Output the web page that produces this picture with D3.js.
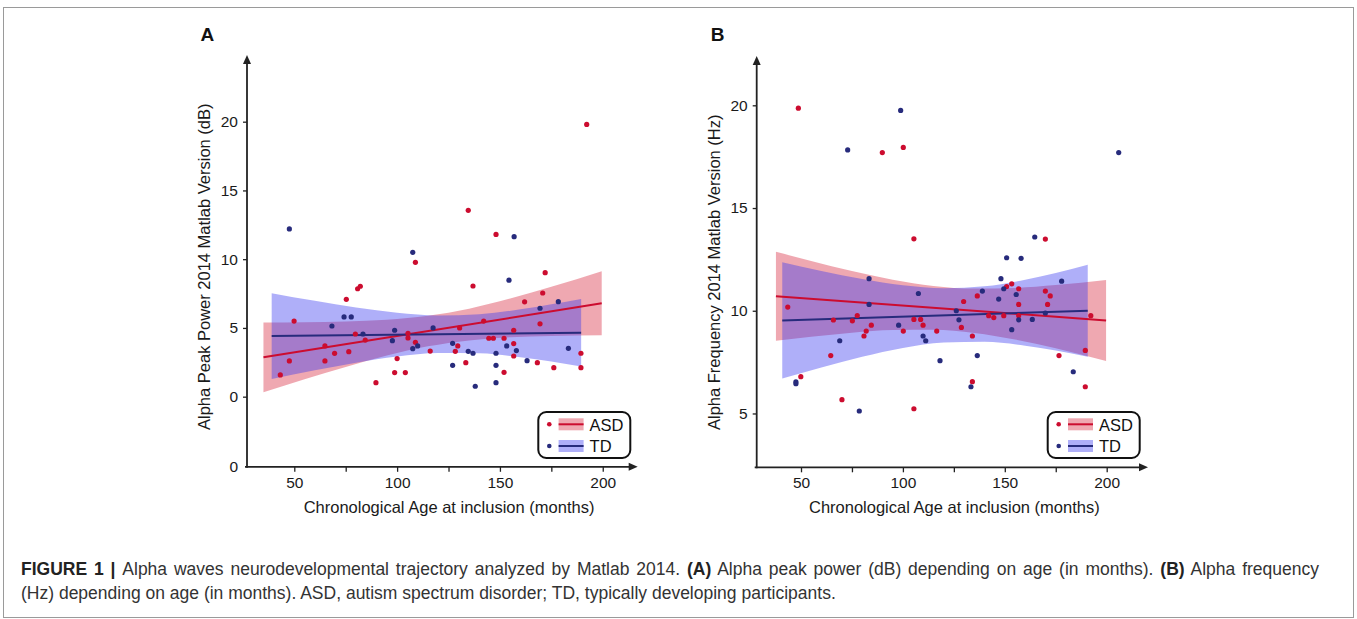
<!DOCTYPE html>
<html>
<head>
<meta charset="utf-8">
<script src="https://cdn.jsdelivr.net/npm/d3@7/dist/d3.min.js"></script>
<style>
  body { margin: 0; background: #fff; }
  svg { font-family: "Liberation Sans", Arial, Helvetica, sans-serif; display: block; }
</style>
</head>
<body>
<svg width="1357" height="619"></svg>
<script>
// ---- panel A : alpha peak power (dB) vs age (months) ----
var ageA_ASD = [43.2, 47.6, 49.9, 64.9, 64.9, 69.6, 75.3, 76.5, 79.7, 80.8, 82.1, 84.5, 89.7, 98.8, 100, 104,
  105.3, 105.3, 108.9, 108.9, 116.1, 128.3, 129.5, 130.4, 133.4, 134.6, 136.9, 142.1, 144.6, 146.8, 148.1,
  152, 152, 156.7, 156.7, 156.7, 162, 168.2, 169.5, 170.8, 172, 176.2, 189.4, 189.4, 192.2];
var powerA_ASD = [1.58, 2.6, 5.5, 3.69, 2.6, 3.15, 7.08, 3.27, 4.56, 7.85, 8.03, 4.12, 1.02, 1.75, 2.77, 1.75,
  4.61, 4.27, 3.95, 9.77, 3.32, 3.3, 3.69, 5.0, 2.47, 13.55, 8.05, 5.5, 4.25, 4.25, 11.8,
  4.25, 1.77, 4.83, 3.86, 2.96, 6.9, 2.47, 5.3, 7.54, 9.02, 2.11, 3.16, 2.11, 19.8];
var ageA_TD = [47.6, 68.3, 74.2, 77.7, 83.4, 97.7, 98.8, 107.6, 107.6, 110, 117.5, 127, 127, 134.6, 136.9,
  138, 148.1, 148.1, 148.1, 153.3, 154.4, 156.9, 158, 163.2, 169.5, 178.4, 183.3];
var powerA_TD = [12.2, 5.14, 5.8, 5.8, 4.56, 4.07, 4.83, 10.5, 3.49, 3.69, 5.0, 3.88, 2.28, 3.3, 3.16,
  0.76, 3.16, 2.28, 1.02, 3.69, 8.47, 11.64, 3.35, 2.62, 6.43, 6.91, 3.52];

// fitted lines and confidence bands
var fitAgeA_ASD = [35, 199.5], fitA_ASD = [2.86, 6.79];
var fitAgeA_TD = [39, 189.5], fitA_TD = [4.41, 4.65];
var bandAgeA_ASD = [35, 55, 75, 95, 115, 135, 155, 175, 199.5];
var bandLoA_ASD = [0.32, 1.26, 2.16, 2.99, 3.66, 4.09, 4.32, 4.42, 4.46];
var bandHiA_ASD = [5.40, 5.42, 5.47, 5.60, 5.89, 6.40, 7.14, 7.99, 9.13];
var bandAgeA_TD = [39, 60, 80, 100, 120, 140, 160, 175, 189.5];
var bandLoA_TD = [1.29, 1.92, 2.47, 2.92, 3.18, 3.15, 2.86, 2.55, 2.19];
var bandHiA_TD = [7.53, 6.97, 6.48, 6.10, 5.90, 6.00, 6.35, 6.72, 7.11];

// ---- panel B : alpha frequency (Hz) vs age (months) ----
var ageB_ASD = [43.5, 48.7, 49.9, 64.6, 65.9, 70.1, 75.2, 77.6, 80.9, 82, 84.5, 89.9, 100.2, 100.2, 105.4,
  105.4, 105.4, 108.7, 109.9, 116.6, 128.7, 129.8, 134.1, 134.1, 136.5, 142.1, 144.6, 149.5, 150.9, 153.4,
  156.8, 156.8, 156.8, 169.9, 169.9, 171, 172.3, 176.6, 189.5, 189.5, 192.2];
var freqB_ASD = [10.18, 19.86, 6.79, 7.82, 9.55, 5.67, 9.51, 9.77, 8.77, 9.01, 9.3, 17.7, 17.95, 9.01, 13.5,
  9.58, 5.23, 9.58, 9.3, 9.01, 9.19, 10.45, 8.77, 6.55, 10.72, 9.76, 9.67, 9.76, 11.18, 11.31,
  11.07, 10.31, 9.76, 13.49, 10.96, 10.31, 10.72, 7.82, 8.07, 6.3, 9.76];
var ageB_TD = [47.5, 47.5, 69, 72.9, 78.6, 83.4, 83.4, 97.9, 98.9, 107.6, 109.9, 111.2, 118.2, 126.2, 127.5,
  133.4, 136.5, 139, 147, 148.1, 149.5, 150.9, 153.4, 155.6, 156.8, 158, 163.5, 164.7, 169.9, 177.9, 183.6, 205.9];
var freqB_TD = [6.54, 6.45, 8.54, 17.83, 5.12, 11.56, 10.31, 9.3, 19.75, 10.84, 8.77, 8.54, 7.57, 10.0, 9.56,
  6.3, 7.82, 10.96, 10.57, 11.56, 11.07, 12.58, 9.08, 10.79, 9.56, 12.55, 9.58, 13.59, 9.89, 11.44, 7.03, 17.7];

var fitAgeB_ASD = [37.7, 199.7], fitB_ASD = [10.70, 9.53];
var fitAgeB_TD = [40.8, 190.7], fitB_TD = [9.53, 10.0];
var bandAgeB_ASD = [37.7, 55, 75, 95, 115, 135, 155, 175, 199.7];
var bandLoB_ASD = [8.54, 8.73, 8.93, 9.06, 9.07, 8.92, 8.60, 8.17, 7.55];
var bandHiB_ASD = [12.87, 12.42, 11.93, 11.51, 11.21, 11.08, 11.11, 11.25, 11.50];
var bandAgeB_TD = [40.8, 60, 80, 100, 120, 140, 160, 175, 190.7];
var bandLoB_TD = [6.70, 7.24, 7.76, 8.19, 8.46, 8.49, 8.30, 8.06, 7.76];
var bandHiB_TD = [12.36, 11.94, 11.55, 11.24, 11.10, 11.19, 11.51, 11.84, 12.24];

var xTicks = [50, 75, 100, 125, 150, 175, 200];
var yTicksA = [0, 5, 10, 15, 20];
var yTicksB = [5, 10, 15, 20];
var groups = ["ASD", "TD"];

var red = "#cc0c2f", blue = "#272b7c";
var redFill = "#d7263d", blueFill = "#3838f0";

var svg = d3.select("svg");

// grey frame round the figure
svg.append("rect")
  .attr("x", 3.5).attr("y", 7.5)
  .attr("width", 1350).attr("height", 610)
  .attr("fill", "none").attr("stroke", "#9a9a9a").attr("stroke-width", 1);

function drawPanel(p) {
  var g = svg.append("g");
  var x = d3.scaleLinear().domain(p.xDom).range(p.xRange);
  var y = d3.scaleLinear().domain(p.yDom).range(p.yRange);
  var x0 = p.xRange[0], x1 = p.xRange[1], y0 = p.yRange[0], y1 = p.yRange[1];

  // bands
  p.series.forEach(function(s) {
    var pts = s.bandAge.map(function(a, i) { return [a, s.bandLo[i], s.bandHi[i]]; });
    var area = d3.area()
      .x(function(d) { return x(d[0]); })
      .y0(function(d) { return y(d[1]); })
      .y1(function(d) { return y(d[2]); })
      .curve(d3.curveMonotoneX);
    g.append("path").datum(pts)
      .attr("d", area)
      .attr("fill", s.fill)
      .attr("fill-opacity", 0.4);
  });

  // fit lines
  p.series.forEach(function(s) {
    var line = d3.line().x(function(d) { return x(d[0]); }).y(function(d) { return y(d[1]); });
    g.append("path").datum(s.fitAge.map(function(a, i) { return [a, s.fit[i]]; }))
      .attr("d", line)
      .attr("fill", "none")
      .attr("stroke", s.color)
      .attr("stroke-width", 2);
  });

  // points
  p.series.forEach(function(s) {
    g.selectAll(null)
      .data(s.age.map(function(a, i) { return [a, s.val[i]]; }))
      .enter().append("circle")
        .attr("cx", function(d) { return x(d[0]); })
        .attr("cy", function(d) { return y(d[1]); })
        .attr("r", 2.6)
        .attr("fill", s.color);
  });

  // axes
  var xAxis = g.append("g")
    .attr("transform", "translate(0," + y0 + ")")
    .call(d3.axisBottom(x).tickValues(xTicks).tickSize(5).tickPadding(5)
      .tickFormat(function(d) { return d % 50 === 0 ? d : ""; }));
  var yAxis = g.append("g")
    .attr("transform", "translate(" + x0 + ",0)")
    .call(d3.axisLeft(y).tickValues(p.yTicks).tickSize(4).tickPadding(5));
  [xAxis, yAxis].forEach(function(a) {
    a.select(".domain").remove();
    a.selectAll("line").attr("stroke", "#222").attr("stroke-width", 1.3);
    a.selectAll("text").attr("font-size", 15.5).attr("fill", "#1a1a1a").attr("font-family", null);
  });
  if (p.bottomLabel) {
    g.append("text").attr("x", x0 - 9).attr("y", y0).attr("dy", "0.36em")
      .attr("text-anchor", "end").attr("font-size", 15.5).attr("fill", "#1a1a1a")
      .text(p.bottomLabel);
  }

  g.append("line").attr("x1", x0 - 2).attr("x2", x1 - 6).attr("y1", y0).attr("y2", y0)
    .attr("stroke", "#222").attr("stroke-width", 1.8);
  g.append("line").attr("x1", x0).attr("x2", x0).attr("y1", y0 + 1).attr("y2", y1 + 6)
    .attr("stroke", "#222").attr("stroke-width", 1.8);
  g.append("path").attr("d", "M" + x1 + "," + y0 + "L" + (x1 - 9) + "," + (y0 - 4) + "L" + (x1 - 9) + "," + (y0 + 4) + "Z")
    .attr("fill", "#222");
  g.append("path").attr("d", "M" + x0 + "," + y1 + "L" + (x0 - 4) + "," + (y1 + 9) + "L" + (x0 + 4) + "," + (y1 + 9) + "Z")
    .attr("fill", "#222");

  // titles
  g.append("text")
    .attr("x", (x(50) + x(200)) / 2 + 0.5).attr("y", 513)
    .attr("text-anchor", "middle").attr("font-size", 16.5).attr("fill", "#1a1a1a")
    .text("Chronological Age at inclusion (months)");
  g.append("text")
    .attr("transform", "translate(" + p.yTitleX + ",430) rotate(-90)")
    .attr("font-size", 16.5).attr("fill", "#1a1a1a")
    .text(p.yTitle);
  g.append("text")
    .attr("x", p.letterX).attr("y", 40.7)
    .attr("font-size", 19).attr("font-weight", "bold").attr("fill", "#111")
    .text(p.letter);

  // legend
  var lx = p.legendX, ly = 412;
  var lg = g.append("g").attr("transform", "translate(" + lx + "," + ly + ")");
  lg.append("rect").attr("x", 0).attr("y", 0).attr("width", 92).attr("height", 46)
    .attr("rx", 8).attr("fill", "#fff").attr("stroke", "#111").attr("stroke-width", 2);
  p.series.forEach(function(s, i) {
    var cy = 12.3 + i * 21.7;
    lg.append("circle").attr("cx", 11).attr("cy", cy).attr("r", 2.3).attr("fill", s.color);
    lg.append("rect").attr("x", 20.3).attr("y", cy - 6).attr("width", 25).attr("height", 12)
      .attr("fill", s.fill).attr("fill-opacity", 0.4);
    lg.append("line").attr("x1", 20.3).attr("x2", 45.3).attr("y1", cy).attr("y2", cy)
      .attr("stroke", s.color).attr("stroke-width", 2);
    lg.append("text").attr("x", 51.3).attr("y", cy + 6.2)
      .attr("font-size", 16.5).attr("fill", "#111").text(s.name);
  });
}

drawPanel({
  xDom: [27, 217], xRange: [247, 637.7],
  yDom: [-5.1, 24.85], yRange: [466.8, 55],
  yTicks: yTicksA, bottomLabel: "0",
  yTitle: "Alpha Peak Power 2014 Matlab Version (dB)", yTitleX: 209.5,
  letter: "A", letterX: 200.5, legendX: 538.3,
  series: [
    { name: groups[0], color: red, fill: redFill, age: ageA_ASD, val: powerA_ASD,
      fitAge: fitAgeA_ASD, fit: fitA_ASD, bandAge: bandAgeA_ASD, bandLo: bandLoA_ASD, bandHi: bandHiA_ASD },
    { name: groups[1], color: blue, fill: blueFill, age: ageA_TD, val: powerA_TD,
      fitAge: fitAgeA_TD, fit: fitA_TD, bandAge: bandAgeA_TD, bandLo: bandLoA_TD, bandHi: bandHiA_TD }
  ]
});

drawPanel({
  xDom: [28.26, 220.27], xRange: [756.7, 1148],
  yDom: [2.38, 22.4], yRange: [467.3, 56],
  yTicks: yTicksB, bottomLabel: null,
  yTitle: "Alpha Frequency 2014 Matlab Version (Hz)", yTitleX: 719.5,
  letter: "B", letterX: 710.7, legendX: 1047.7,
  series: [
    { name: groups[0], color: red, fill: redFill, age: ageB_ASD, val: freqB_ASD,
      fitAge: fitAgeB_ASD, fit: fitB_ASD, bandAge: bandAgeB_ASD, bandLo: bandLoB_ASD, bandHi: bandHiB_ASD },
    { name: groups[1], color: blue, fill: blueFill, age: ageB_TD, val: freqB_TD,
      fitAge: fitAgeB_TD, fit: fitB_TD, bandAge: bandAgeB_TD, bandLo: bandLoB_TD, bandHi: bandHiB_TD }
  ]
});

// caption
var cap = svg.append("g").attr("font-size", 17.5).attr("fill", "#333");
var l1 = cap.append("text").attr("x", 21).attr("y", 575).attr("word-spacing", 2);
l1.append("tspan").attr("font-weight", "bold").attr("fill", "#222").text("FIGURE 1 | ");
l1.append("tspan").text("Alpha waves neurodevelopmental trajectory analyzed by Matlab 2014. ");
l1.append("tspan").attr("font-weight", "bold").attr("fill", "#222").text("(A)");
l1.append("tspan").text(" Alpha peak power (dB) depending on age (in months). ");
l1.append("tspan").attr("font-weight", "bold").attr("fill", "#222").text("(B)");
l1.append("tspan").text(" Alpha frequency");
cap.append("text").attr("x", 21).attr("y", 599)
  .text("(Hz) depending on age (in months). ASD, autism spectrum disorder; TD, typically developing participants.");
</script>
</body>
</html>
